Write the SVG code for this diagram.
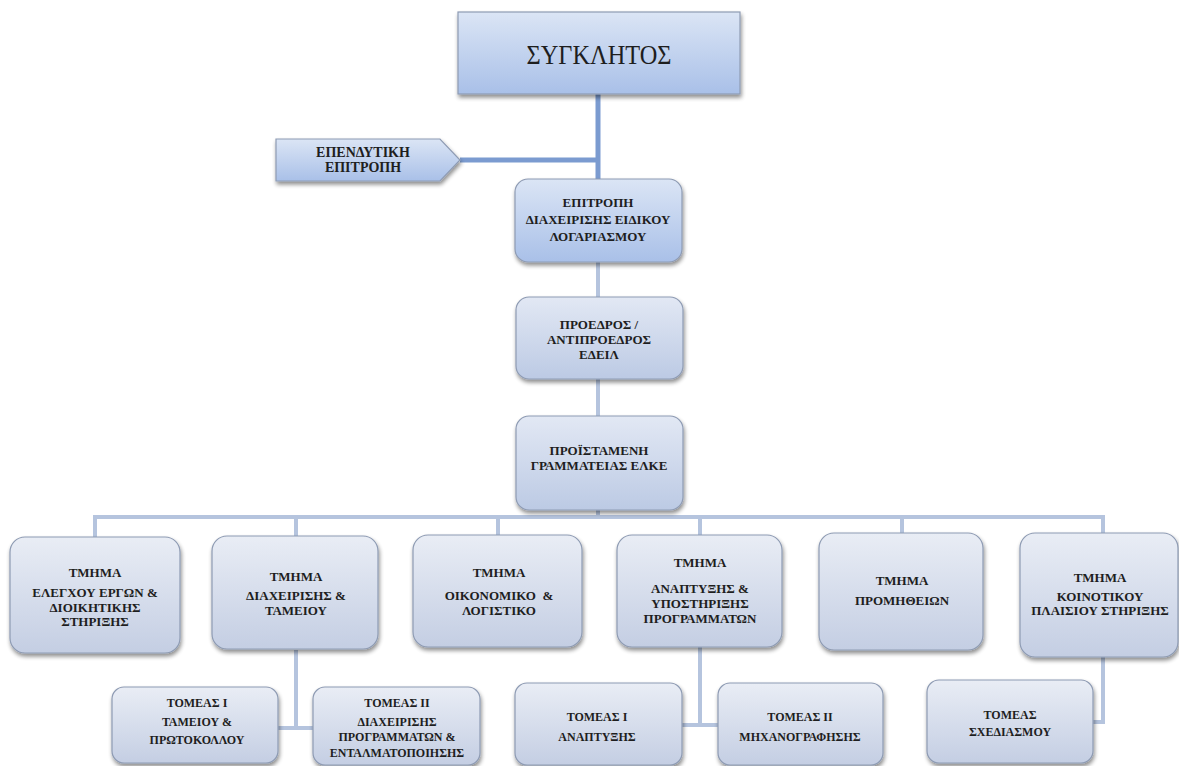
<svg xmlns="http://www.w3.org/2000/svg" width="1179" height="766" viewBox="0 0 1179 766">
<defs>
<linearGradient id="gTop" x1="0" y1="0" x2="0" y2="1">
<stop offset="0" stop-color="#dbe5f5"/>
<stop offset="1" stop-color="#a9c0e8"/>
</linearGradient>
<linearGradient id="gMid" x1="0" y1="0" x2="0" y2="1">
<stop offset="0" stop-color="#e2e8f4"/>
<stop offset="1" stop-color="#bccae4"/>
</linearGradient>
<linearGradient id="gLow" x1="0" y1="0" x2="0" y2="1">
<stop offset="0" stop-color="#e9edf5"/>
<stop offset="1" stop-color="#c4cee3"/>
</linearGradient>
<filter id="sh" x="-10%" y="-10%" width="130%" height="140%">
<feGaussianBlur in="SourceAlpha" stdDeviation="2"/>
<feOffset dx="1" dy="3" result="b"/>
<feComponentTransfer><feFuncA type="linear" slope="0.45"/></feComponentTransfer>
<feMerge><feMergeNode/><feMergeNode in="SourceGraphic"/></feMerge>
</filter>
</defs>
<style>
.box{stroke:#8e9bb3;stroke-width:1.2;filter:url(#sh)}
.top{fill:url(#gTop)}
.mid{fill:url(#gMid)}
.low{fill:url(#gLow)}
text{font-family:"Liberation Serif","DejaVu Serif",serif;fill:#1e1e1e;text-anchor:middle}
.b{font-weight:bold}
.t14{font-size:14px}
.t13{font-size:13px}
.t12{font-size:12px}
.dark{stroke:#7b9bd0;stroke-width:5;fill:none}
.lite{stroke:#b5c4de;stroke-width:4;fill:none}
</style>
<rect width="1179" height="766" fill="#ffffff"/>

<g id="connectors">
<path class="dark" d="M598 94 V179"/>
<path class="dark" d="M460 160 H598"/>
<path class="lite" d="M598 262 V297"/>
<path class="lite" d="M598 379 V416"/>
<path class="lite" d="M598 510 V517"/>
<path class="lite" d="M95 537 V517 H1103 V535"/>
<path class="lite" d="M296 517 V537"/>
<path class="lite" d="M498 517 V535"/>
<path class="lite" d="M700 517 V535"/>
<path class="lite" d="M902 517 V533"/>
<path class="lite" d="M296 650 V728 M278 728 H313"/>
<path class="lite" d="M700 647 V725 M682 725 H718"/>
<path class="lite" d="M1103 657 V722 H1093"/>
</g>

<g id="senate">
<rect class="box top" x="458" y="12" width="282" height="82"/>
<text x="599" y="64" style="font-size:28px" textLength="145" lengthAdjust="spacingAndGlyphs">ΣΥΓΚΛΗΤΟΣ</text>
</g>

<g id="investment-committee">
<path class="box top" d="M276 139 H440 L460 160 L440 181 H276 Z"/>
<text class="b t14" x="363" y="157">ΕΠΕΝΔΥΤΙΚΗ</text>
<text class="b t14" x="363" y="172">ΕΠΙΤΡΟΠΗ</text>
</g>

<g id="special-account-committee">
<rect class="box top" x="515" y="179" width="167" height="83" rx="13"/>
<text class="b t13" x="598" y="207">ΕΠΙΤΡΟΠΗ</text>
<text class="b t13" x="598" y="224">ΔΙΑΧΕΙΡΙΣΗΣ ΕΙΔΙΚΟΥ</text>
<text class="b t13" x="598" y="241">ΛΟΓΑΡΙΑΣΜΟΥ</text>
</g>

<g id="president">
<rect class="box mid" x="516" y="297" width="167" height="82" rx="13"/>
<text class="b t13" x="599" y="329">ΠΡΟΕΔΡΟΣ /</text>
<text class="b t13" x="599" y="344">ΑΝΤΙΠΡΟΕΔΡΟΣ</text>
<text class="b t13" x="599" y="359">ΕΔΕΙΛ</text>
</g>

<g id="secretariat-head">
<rect class="box mid" x="516" y="416" width="167" height="94" rx="13"/>
<text class="b t13" x="599" y="455">ΠΡΟΪΣΤΑΜΕΝΗ</text>
<text class="b t13" x="599" y="470">ΓΡΑΜΜΑΤΕΙΑΣ ΕΛΚΕ</text>
</g>

<g id="dept-audit">
<rect class="box low" x="10" y="537" width="170" height="116" rx="15"/>
<text class="b t13" x="95" y="577">ΤΜΗΜΑ</text>
<text class="b t13" x="95" y="597">ΕΛΕΓΧΟΥ ΕΡΓΩΝ &amp;</text>
<text class="b t13" x="95" y="612">ΔΙΟΙΚΗΤΙΚΗΣ</text>
<text class="b t13" x="95" y="626">ΣΤΗΡΙΞΗΣ</text>
</g>

<g id="dept-management">
<rect class="box low" x="212" y="536" width="166" height="113" rx="15"/>
<text class="b t13" x="296" y="581">ΤΜΗΜΑ</text>
<text class="b t13" x="296" y="600">ΔΙΑΧΕΙΡΙΣΗΣ &amp;</text>
<text class="b t13" x="296" y="615">ΤΑΜΕΙΟΥ</text>
</g>

<g id="dept-finance">
<rect class="box low" x="413" y="535" width="169" height="112" rx="15"/>
<text class="b t13" x="499" y="577">ΤΜΗΜΑ</text>
<text class="b t13" x="499" y="600" xml:space="preserve">ΟΙΚΟΝΟΜΙΚΟ  &amp;</text>
<text class="b t13" x="499" y="615">ΛΟΓΙΣΤΙΚΟ</text>
</g>

<g id="dept-development">
<rect class="box low" x="617" y="535" width="165" height="112" rx="15"/>
<text class="b t13" x="700" y="567">ΤΜΗΜΑ</text>
<text class="b t13" x="700" y="593">ΑΝΑΠΤΥΞΗΣ &amp;</text>
<text class="b t13" x="700" y="608">ΥΠΟΣΤΗΡΙΞΗΣ</text>
<text class="b t13" x="700" y="623">ΠΡΟΓΡΑΜΜΑΤΩΝ</text>
</g>

<g id="dept-procurement">
<rect class="box low" x="819" y="533" width="164" height="117" rx="15"/>
<text class="b t13" x="902" y="585">ΤΜΗΜΑ</text>
<text class="b t13" x="902" y="605">ΠΡΟΜΗΘΕΙΩΝ</text>
</g>

<g id="dept-community">
<rect class="box low" x="1020" y="533" width="158" height="124" rx="15"/>
<text class="b t13" x="1100" y="582">ΤΜΗΜΑ</text>
<text class="b t13" x="1100" y="601">ΚΟΙΝΟΤΙΚΟΥ</text>
<text class="b t13" x="1100" y="615">ΠΛΑΙΣΙΟΥ ΣΤΗΡΙΞΗΣ</text>
</g>

<g id="sector-treasury">
<rect class="box low" x="112" y="687" width="166" height="76" rx="12"/>
<text class="b t12" x="197" y="707">ΤΟΜΕΑΣ Ι</text>
<text class="b t12" x="197" y="726">ΤΑΜΕΙΟΥ &amp;</text>
<text class="b t12" x="197" y="744">ΠΡΩΤΟΚΟΛΛΟΥ</text>
</g>

<g id="sector-programmes">
<rect class="box low" x="313" y="687" width="167" height="78" rx="12"/>
<text class="b t12" x="397" y="707">ΤΟΜΕΑΣ ΙΙ</text>
<text class="b t12" x="397" y="726">ΔΙΑΧΕΙΡΙΣΗΣ</text>
<text class="b t12" x="397" y="741">ΠΡΟΓΡΑΜΜΑΤΩΝ &amp;</text>
<text class="b t12" x="397" y="757">ΕΝΤΑΛΜΑΤΟΠΟΙΗΣΗΣ</text>
</g>

<g id="sector-development">
<rect class="box low" x="515" y="683" width="167" height="82" rx="12"/>
<text class="b t12" x="597" y="721">ΤΟΜΕΑΣ Ι</text>
<text class="b t12" x="597" y="741">ΑΝΑΠΤΥΞΗΣ</text>
</g>

<g id="sector-it">
<rect class="box low" x="718" y="683" width="165" height="82" rx="12"/>
<text class="b t12" x="800" y="721">ΤΟΜΕΑΣ ΙΙ</text>
<text class="b t12" x="800" y="741">ΜΗΧΑΝΟΓΡΑΦΗΣΗΣ</text>
</g>

<g id="sector-planning">
<rect class="box low" x="927" y="680" width="166" height="83" rx="12"/>
<text class="b t12" x="1010" y="719">ΤΟΜΕΑΣ</text>
<text class="b t12" x="1010" y="736">ΣΧΕΔΙΑΣΜΟΥ</text>
</g>
</svg>
